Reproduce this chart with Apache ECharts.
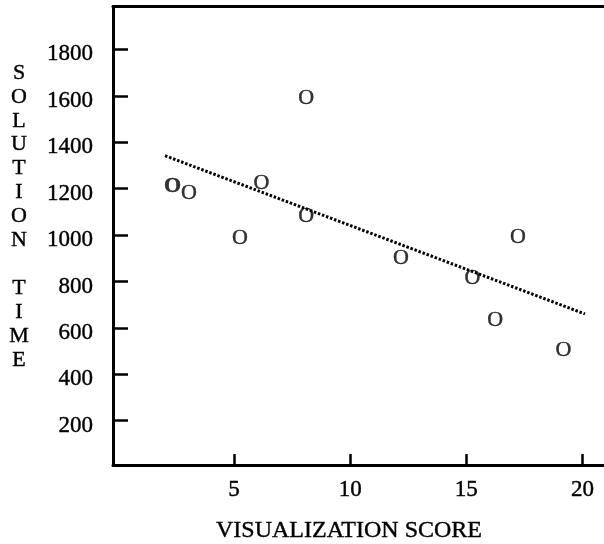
<!DOCTYPE html>
<html>
<head>
<meta charset="utf-8">
<script src="https://cdn.jsdelivr.net/npm/echarts@6/dist/echarts.min.js"></script>
<style>
html,body{margin:0;padding:0;background:#fff;}
#chart{width:604px;height:544px;}
</style>
</head>
<body>
<div id="chart"></div>
<script>
// Data
var scoreX = [2.35, 3.06, 5.26, 6.18, 8.11, 8.11, 12.19, 15.27, 16.24, 17.22, 19.18];
var timeY  = [1210, 1182, 988, 1224, 1590, 1082, 902, 814, 631, 991, 503];
var trendX = [2.03, 20.11];
var trendY = [1342, 660];
var xTicks = [5, 10, 15, 20];
var yTicks = [200, 400, 600, 800, 1000, 1200, 1400, 1600, 1800];
var xTitle = 'VISUALIZATION SCORE';
var yTitleWords = ['SOLUTION', 'TIME'];

var SERIF = '"Liberation Serif", "DejaVu Serif", serif';
var chart = echarts.init(document.getElementById('chart'), null, {renderer: 'canvas'});

var points = scoreX.map(function (x, i) {
  return {
    value: [x, timeY[i]],
    label: i === 0 ? {fontWeight: 'bold'} : undefined
  };
});
var trend = trendX.map(function (x, i) { return [x, trendY[i]]; });
var yTitle = yTitleWords.map(function (w) { return w.split('').join('\n'); }).join('\n\n');
var heavy = {textBorderColor: '#000', textBorderWidth: 0.4};

chart.setOption({
  animation: false,
  backgroundColor: '#fff',
  grid: {left: 113, right: 0, top: 6.5, bottom: 79, containLabel: false, outerBoundsMode: 'none'},
  xAxis: [{
    type: 'value', min: -0.21, max: 20.93, position: 'bottom',
    axisLine: {show: true, onZero: false, lineStyle: {color: '#000', width: 3}},
    axisTick: {show: true, inside: true, length: 11, lineStyle: {color: '#000', width: 2.5}, customValues: xTicks},
    axisLabel: Object.assign({show: true, margin: 13, color: '#000', fontFamily: SERIF, fontSize: 23, customValues: xTicks,
      formatter: function (v) { return String(v); }}, heavy),
    splitLine: {show: false}
  }, {
    type: 'value', min: -0.21, max: 20.93, position: 'top',
    axisLine: {show: true, onZero: false, lineStyle: {color: '#000', width: 3}},
    axisTick: {show: false}, axisLabel: {show: false}, splitLine: {show: false}
  }],
  yAxis: {
    type: 'value', min: 9, max: 1985,
    axisLine: {show: true, onZero: false, lineStyle: {color: '#000', width: 3}},
    axisTick: {show: true, inside: true, length: 15, lineStyle: {color: '#000', width: 2.5}, customValues: yTicks},
    axisLabel: Object.assign({show: true, margin: 20, color: '#000', fontFamily: SERIF, fontSize: 23, customValues: yTicks,
      formatter: function (v) { return '{t|' + v + '}'; },
      rich: {t: Object.assign({fontFamily: SERIF, fontSize: 23, color: '#000', padding: [10, 0, 0, 0]}, heavy)}}, heavy),
    splitLine: {show: false}
  },
  graphic: [{
    type: 'text', x: 19, y: 61,
    style: {text: yTitle, font: '22px ' + SERIF, fill: '#000', textAlign: 'center', textVerticalAlign: 'top', lineHeight: 23.9, stroke: '#000', lineWidth: 0.4}
  }, {
    type: 'text', x: 349, y: 531,
    style: {text: xTitle, font: '24px ' + SERIF, fill: '#000', textAlign: 'center', textVerticalAlign: 'middle', stroke: '#000', lineWidth: 0.4}
  }],
  series: [{
    type: 'line', data: trend, xAxisIndex: 0, symbol: 'none',
    lineStyle: {color: '#000', width: 3, type: [2.5, 1.8]}
  }, {
    type: 'scatter', data: points, xAxisIndex: 0, symbolSize: 0,
    label: Object.assign({show: true, position: 'inside', formatter: 'O', color: '#000', fontFamily: SERIF, fontSize: 22}, heavy)
  }]
});
</script>
</body>
</html>
